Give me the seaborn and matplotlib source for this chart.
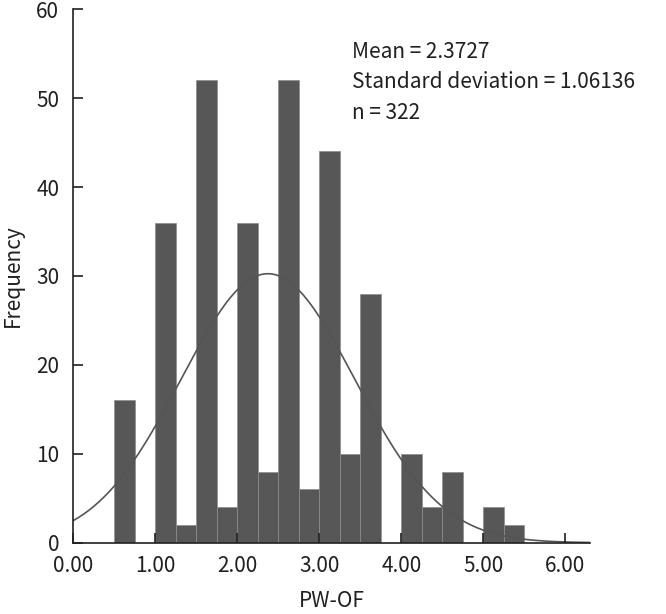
import numpy as np
import pandas as pd
import seaborn as sns
import matplotlib.pyplot as plt

# histogram bins (PW-OF), width 0.25
bin_left = [0.50, 0.75, 1.00, 1.25, 1.50, 1.75, 2.00, 2.25, 2.50, 2.75,
            3.00, 3.25, 3.50, 3.75, 4.00, 4.25, 4.50, 4.75, 5.00, 5.25]
counts = [16, 0, 36, 2, 52, 4, 36, 8, 52, 6,
          44, 10, 28, 0, 10, 4, 8, 0, 4, 2]
bin_width = 0.25

mean_val = 2.3727
sd_val = 1.06136
n_total = 322

x_ticks = [0, 1, 2, 3, 4, 5, 6]
y_ticks = [0, 10, 20, 30, 40, 50, 60]

sns.set_style("white")
plt.rcParams['font.family'] = ['Noto Sans CJK KR', 'DejaVu Sans']
plt.rcParams['font.weight'] = 'medium'

df = pd.DataFrame({"left": bin_left, "count": counts})
df["center"] = df["left"] + bin_width / 2
edges = list(bin_left) + [bin_left[-1] + bin_width]

fig = plt.figure(figsize=(6.66, 6.14), dpi=100)
ax = fig.add_axes([0.110, 0.116, 0.776, 0.869])

sns.histplot(data=df, x="center", weights="count", bins=edges, ax=ax,
             color="#575757", alpha=1, edgecolor="#8c8c8c", linewidth=0.5)

# fitted normal curve from the reported statistics
xs = np.linspace(0, 6.3, 300)
ys = n_total * bin_width * np.exp(-0.5 * ((xs - mean_val) / sd_val) ** 2) / (sd_val * np.sqrt(2 * np.pi))
sns.lineplot(x=xs, y=ys, ax=ax, color="#555555", linewidth=1.2)

ax.set_xlim(0, 6.3)
ax.set_ylim(0, 60)
ax.set_axisbelow(False)
ax.set_xticks(x_ticks)
ax.set_xticklabels([f"{t:.2f}" for t in x_ticks])
ax.set_yticks(y_ticks)
ax.tick_params(axis="both", direction="in", length=7, width=1.2, color="#231f20",
               labelsize=15, labelcolor="#231f20", left=True, bottom=True)
ax.tick_params(axis="x", pad=9)
ax.tick_params(axis="y", pad=10)

for side in ["top", "right"]:
    ax.spines[side].set_visible(False)
for side in ["left", "bottom"]:
    ax.spines[side].set_color("#231f20")
    ax.spines[side].set_linewidth(1.2)

ax.set_xlabel("PW-OF", fontsize=15, color="#231f20", labelpad=9)
ax.set_ylabel("Frequency", fontsize=15, color="#231f20", labelpad=9)

ax.text(3.40, 54.5, f"Mean = {mean_val}", fontsize=15, color="#231f20", va="baseline")
ax.text(3.40, 51.1, f"Standard deviation = {sd_val}", fontsize=15, color="#231f20", va="baseline")
ax.text(3.40, 47.7, f"n = {n_total}", fontsize=15, color="#231f20", va="baseline")

fig.savefig("out.png", dpi=100)
